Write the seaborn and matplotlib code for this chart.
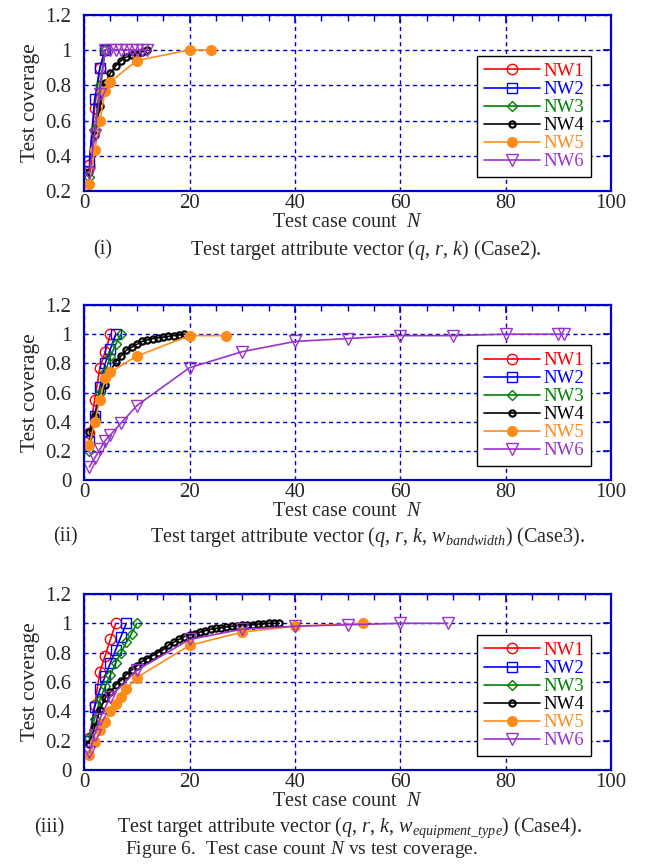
import matplotlib
matplotlib.use("Agg")
import matplotlib.pyplot as plt
from matplotlib.ticker import MultipleLocator, FormatStrFormatter
import pandas as pd
import seaborn as sns

# ---- Case2: (q, r, k) ----
c2_nw1_n = [1, 2, 3, 4]
c2_nw1_cov = [0.35, 0.67, 0.90, 1.00]
c2_nw2_n = [1, 2, 3, 4]
c2_nw2_cov = [0.37, 0.72, 0.90, 1.00]
c2_nw3_n = [1, 2, 3, 4]
c2_nw3_cov = [0.28, 0.55, 0.80, 1.00]
c2_nw4_n = [1, 2, 3, 4, 5, 6, 7, 8, 9, 10, 11, 12]
c2_nw4_cov = [0.31, 0.52, 0.68, 0.81, 0.87, 0.91, 0.94, 0.96, 0.97, 0.98, 0.99, 1.00]
c2_nw5_n = [1, 2, 3, 4, 5, 10, 20, 24]
c2_nw5_cov = [0.24, 0.43, 0.60, 0.77, 0.82, 0.94, 1.00, 1.00]
c2_nw6_n = [1, 2, 3, 4, 5, 6, 7, 8, 9, 10, 11, 12]
c2_nw6_cov = [0.30, 0.52, 0.75, 1.00, 1.00, 1.00, 1.00, 1.00, 1.00, 1.00, 1.00, 1.00]

# ---- Case3: (q, r, k, w_bandwidth) ----
c3_nw1_n = [1, 2, 3, 4, 5]
c3_nw1_cov = [0.32, 0.55, 0.77, 0.88, 1.00]
c3_nw2_n = [1, 2, 3, 4, 5, 6]
c3_nw2_cov = [0.27, 0.44, 0.64, 0.80, 0.90, 1.00]
c3_nw3_n = [1, 2, 3, 4, 5, 6, 7]
c3_nw3_cov = [0.20, 0.40, 0.60, 0.74, 0.85, 0.93, 1.00]
c3_nw4_n = [1, 2, 3, 4, 5, 6, 7, 8, 9, 10, 11, 12, 13, 14, 15, 16, 17, 18, 19]
c3_nw4_cov = [0.33, 0.44, 0.55, 0.65, 0.75, 0.81, 0.85, 0.89, 0.91, 0.93,
              0.95, 0.96, 0.97, 0.975, 0.98, 0.985, 0.99, 0.995, 1.00]
c3_nw5_n = [1, 2, 3, 4, 5, 10, 20, 27]
c3_nw5_cov = [0.24, 0.40, 0.55, 0.70, 0.74, 0.85, 0.99, 0.99]
c3_nw6_n = [1, 2, 3, 4, 5, 7, 10, 20, 30, 40, 50, 60, 70, 80, 90, 91]
c3_nw6_cov = [0.09, 0.15, 0.21, 0.27, 0.31, 0.39, 0.51, 0.77, 0.88, 0.95,
              0.97, 0.99, 0.99, 1.00, 1.00, 1.00]

# ---- Case4: (q, r, k, w_equipment_type) ----
c4_nw1_n = [1, 2, 3, 4, 5, 6]
c4_nw1_cov = [0.22, 0.44, 0.67, 0.78, 0.89, 1.00]
c4_nw2_n = [1, 2, 3, 4, 5, 6, 7, 8]
c4_nw2_cov = [0.20, 0.43, 0.55, 0.64, 0.73, 0.82, 0.91, 1.00]
c4_nw3_n = [1, 2, 3, 4, 5, 6, 7, 8, 9, 10]
c4_nw3_cov = [0.22, 0.35, 0.48, 0.57, 0.65, 0.73, 0.80, 0.87, 0.93, 1.00]
c4_nw4_n = [1, 2, 3, 4, 5, 6, 7, 8, 9, 10, 11, 12, 13, 14, 15, 16, 17, 18, 19,
            20, 21, 22, 23, 24, 25, 26, 27, 28, 29, 30, 31, 32, 33, 34, 35, 36, 37]
c4_nw4_cov = [0.18, 0.29, 0.41, 0.49, 0.53, 0.58, 0.61, 0.65, 0.68, 0.71,
              0.74, 0.76, 0.78, 0.80, 0.82, 0.85, 0.87, 0.89, 0.91, 0.92,
              0.93, 0.94, 0.95, 0.96, 0.965, 0.97, 0.975, 0.98, 0.985, 0.99,
              0.99, 0.99, 0.995, 0.995, 1.00, 1.00, 1.00]
c4_nw5_n = [1, 2, 3, 4, 5, 6, 7, 8, 10, 20, 30, 40, 53]
c4_nw5_cov = [0.10, 0.19, 0.27, 0.33, 0.40, 0.45, 0.50, 0.55, 0.63, 0.85, 0.94, 0.98, 1.00]
c4_nw6_n = [1, 2, 3, 5, 10, 20, 30, 40, 50, 60, 69]
c4_nw6_cov = [0.12, 0.24, 0.35, 0.50, 0.68, 0.89, 0.96, 0.98, 0.99, 1.00, 1.00]

names = ["NW1", "NW2", "NW3", "NW4", "NW5", "NW6"]
colors = ["#ff0000", "#0000ff", "#008000", "#000000", "#ff8c1a", "#9933cc"]

panels = [
    [(c2_nw1_n, c2_nw1_cov), (c2_nw2_n, c2_nw2_cov), (c2_nw3_n, c2_nw3_cov),
     (c2_nw4_n, c2_nw4_cov), (c2_nw5_n, c2_nw5_cov), (c2_nw6_n, c2_nw6_cov)],
    [(c3_nw1_n, c3_nw1_cov), (c3_nw2_n, c3_nw2_cov), (c3_nw3_n, c3_nw3_cov),
     (c3_nw4_n, c3_nw4_cov), (c3_nw5_n, c3_nw5_cov), (c3_nw6_n, c3_nw6_cov)],
    [(c4_nw1_n, c4_nw1_cov), (c4_nw2_n, c4_nw2_cov), (c4_nw3_n, c4_nw3_cov),
     (c4_nw4_n, c4_nw4_cov), (c4_nw5_n, c4_nw5_cov), (c4_nw6_n, c4_nw6_cov)],
]

# marker, size, filled, edge width
marker_style = {
    "NW1": ("o", 7.5, False, 1.0),
    "NW2": ("s", 7.0, False, 1.0),
    "NW3": ("D", 5.0, False, 1.0),
    "NW4": ("o", 4.5, False, 1.6),
    "NW5": ("o", 7.0, True, 1.0),
    "NW6": ("v", 8.5, False, 1.0),
}

sns.set_theme(style="white")
plt.rcParams["font.family"] = ["Liberation Serif", "DejaVu Serif"]
plt.rcParams["mathtext.fontset"] = "custom"
plt.rcParams["mathtext.rm"] = "Liberation Serif"
plt.rcParams["mathtext.it"] = "Liberation Serif:italic"

frame_blue = "#0000cc"
tick_fs = 15
label_fs = 14.5
cap_fs = 14.5

fig = plt.figure(figsize=(6.52, 8.66), dpi=100)
boxes = [[0.129, 0.7794, 0.8083, 0.2036],
         [0.129, 0.4457, 0.8083, 0.2021],
         [0.129, 0.1109, 0.8083, 0.2032]]
ylims = [(0.2, 1.2), (0.0, 1.2), (0.0, 1.2)]

for box, series, ylim in zip(boxes, panels, ylims):
    ax = fig.add_axes(box)
    for name, color, (n, cov) in zip(names, colors, series):
        mk, ms, filled, mew = marker_style[name]
        df = pd.DataFrame({"N": n, "cov": cov})
        sns.lineplot(data=df, x="N", y="cov", ax=ax, color=color, linewidth=1.2,
                     marker=mk, markersize=ms,
                     markerfacecolor=color if filled else "none",
                     markeredgecolor=color, markeredgewidth=mew,
                     estimator=None, sort=False, label=name)

    ax.set_xlim(0, 100)
    ax.set_ylim(*ylim)
    ax.xaxis.set_major_locator(MultipleLocator(20))
    ax.xaxis.set_minor_locator(MultipleLocator(5))
    ax.yaxis.set_major_locator(MultipleLocator(0.2))
    ax.yaxis.set_major_formatter(FormatStrFormatter("%g"))
    ax.grid(True, which="major", color=frame_blue, linestyle=(0, (3, 2.5)), linewidth=1.0)
    for sp in ax.spines.values():
        sp.set_color(frame_blue)
        sp.set_linewidth(1.6)
    ax.tick_params(which="both", direction="in", color=frame_blue, top=True, right=True,
                   labelsize=tick_fs)
    ax.tick_params(axis="x", pad=2)
    ax.tick_params(axis="y", pad=9)
    ax.tick_params(which="major", length=6, width=1.2)
    ax.tick_params(which="minor", length=4, width=1.0)
    ax.set_xlabel("Test case count  $N$", fontsize=label_fs, labelpad=0)
    ax.set_ylabel("Test coverage", fontsize=15.5, labelpad=4)

    leg = ax.legend(loc="lower left", bbox_to_anchor=(0.746, 0.08), borderaxespad=0,
                    fontsize=13.5, handlelength=3.0, handletextpad=0.2,
                    labelspacing=0.05, borderpad=0.35, fancybox=False, framealpha=1,
                    edgecolor="black", labelcolor="linecolor")
    leg.get_frame().set_linewidth(1.0)

fig.text(0.158, 0.711, "(i)", fontsize=cap_fs, ha="center", va="center")
fig.text(0.291, 0.711, "Test target attribute vector ($q$, $r$, $k$) (Case2).",
         fontsize=cap_fs, ha="left", va="center")
fig.text(0.1, 0.38, "(ii)", fontsize=cap_fs, ha="center", va="center")
fig.text(0.23, 0.38,
         "Test target attribute vector ($q$, $r$, $k$, $w_{bandwidth}$) (Case3).",
         fontsize=cap_fs, ha="left", va="center")
fig.text(0.076, 0.044, "(iii)", fontsize=cap_fs, ha="center", va="center")
fig.text(0.18, 0.044,
         "Test target attribute vector ($q$, $r$, $k$, $w_{equipment\\_type}$) (Case4).",
         fontsize=cap_fs, ha="left", va="center")
fig.text(0.463, 0.0185, "Figure 6.  Test case count $N$ vs test coverage.",
         fontsize=14, ha="center", va="center")

fig.savefig("out.png", dpi=100)
